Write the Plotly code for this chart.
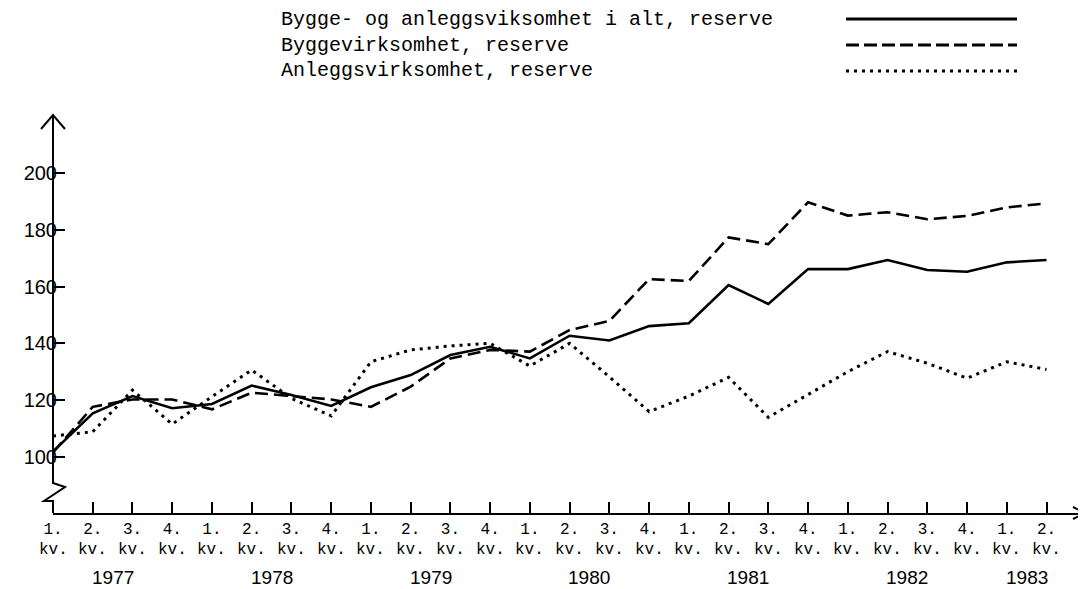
import plotly.graph_objects as go

# ---- data ----
years = ["1977", "1978", "1979", "1980", "1981", "1982", "1983"]
quarter_labels = ["1.", "2.", "3.", "4."] * 6 + ["1.", "2."]
quarter_years = [y for y in years[:-1] for _ in range(4)] + ["1983", "1983"]

alt = [101.8, 115.3, 121.4, 117.1, 118.6, 125.1, 121.8, 117.9, 124.5, 128.8, 135.9, 138.8, 134.7,
       142.7, 141.0, 146.1, 147.1, 160.6, 153.9, 166.2, 166.2, 169.4, 165.9, 165.3, 168.6, 169.4]
bygg = [101.5, 117.6, 120.2, 120.2, 116.7, 122.6, 121.4, 120.2, 117.6, 124.7, 134.7, 137.7, 137.1,
        144.7, 147.9, 162.7, 162.0, 177.4, 175.0, 189.8, 185.1, 186.3, 183.8, 185.0, 188.0, 189.4]
anlegg = [107.3, 108.8, 123.5, 111.5, 121.2, 130.6, 120.6, 114.4, 133.5, 137.7, 139.1, 140.0, 132.0,
          140.0, 128.2, 115.9, 121.4, 128.0, 113.9, 121.8, 130.0, 137.1, 133.0, 127.7, 133.5, 130.8]

series_names = ["Bygge- og anleggsviksomhet i alt, reserve",
                "Byggevirksomhet, reserve",
                "Anleggsvirksomhet, reserve"]
y_ticks = [100, 120, 140, 160, 180, 200]

# ---- layout geometry (page pixels; the page body adds an 8px margin) ----
OFF = 8
W, H = 1086 - OFF, 589 - OFF
AX_X, AX_TOP, AX_Y = 53, 115, 513          # page coords of axes
L, T = AX_X - OFF, AX_TOP - OFF
R, B = 0, H - (AX_Y - OFF)
PW, PH = W - L - R, H - T - B
XSTEP = 39.74            # px per quarter
YPX = 2.8333             # px per index unit
Y100 = 456.7             # page y of value 100


def px(xp):
    return (xp - AX_X) / PW


def py(yp):
    return (AX_Y - yp) / PH


xs = list(range(len(alt)))
styles = [dict(dash="solid", width=2.6),
          dict(dash="13px,6px", width=2.6),
          dict(dash="3px,5px", width=3)]

fig = go.Figure()
for name, vals, st in zip(series_names, [alt, bygg, anlegg], styles):
    fig.add_trace(go.Scatter(x=xs, y=vals, mode="lines", name=name,
                             line=dict(color="black", width=st["width"], dash=st["dash"]),
                             cliponaxis=False, showlegend=False))

fig.update_layout(
    width=W, height=H,
    margin=dict(l=L, r=R, t=T, b=B),
    paper_bgcolor="white", plot_bgcolor="white",
    xaxis=dict(range=[0, PW / XSTEP], showgrid=False, zeroline=False,
               showline=True, linecolor="black", linewidth=2,
               ticks="inside", ticklen=11, tickwidth=2, tickcolor="black",
               tickvals=xs, ticktext=quarter_labels,
               tickfont=dict(family="Liberation Mono", size=16, color="black"),
               ticklabelstandoff=0),
    yaxis=dict(range=[100 - (AX_Y - Y100) / YPX, 100 + (Y100 - AX_TOP) / YPX],
               showgrid=False, zeroline=False, showline=False,
               ticks="inside", ticklen=12, tickwidth=2, tickcolor="black",
               tickvals=y_ticks, ticktext=[str(v) for v in y_ticks],
               tickfont=dict(family="Liberation Sans", size=20, color="black"),
               ticklabelstandoff=-5),
)


def poly(points):
    return "M " + " L ".join(f"{px(a)},{py(b)}" for a, b in points)


# y axis line with break + arrows
fig.add_shape(type="path", path=poly([(53, 115), (53, 483), (65, 487), (44, 501), (53, 501), (53, 513)]),
              xref="paper", yref="paper", line=dict(color="black", width=2))
fig.add_shape(type="path", path=poly([(41, 129), (53, 115), (65, 129)]),
              xref="paper", yref="paper", line=dict(color="black", width=2))
fig.add_shape(type="path", path=poly([(1073, 507), (1085, 513), (1073, 519)]),
              xref="paper", yref="paper", line=dict(color="black", width=2))

# "kv." row and year row
for i in xs:
    fig.add_annotation(x=i, y=py(550), xref="x", yref="paper", text="kv.",
                       showarrow=False, yanchor="middle",
                       font=dict(family="Liberation Mono", size=16, color="black"))
for yr in years:
    idx = [i for i, q in enumerate(quarter_years) if q == yr]
    fig.add_annotation(x=sum(idx) / len(idx), y=py(577), xref="x", yref="paper", text=yr,
                       showarrow=False, yanchor="middle",
                       font=dict(family="Liberation Sans", size=19, color="black"))

# legend
leg_y = [19, 45, 71]
leg_dash = ["solid", "13px,5px", "3px,5px"]
for name, yy, dsh in zip(series_names, leg_y, leg_dash):
    fig.add_annotation(x=px(279), y=py(yy), xref="paper", yref="paper", text=name,
                       showarrow=False, xanchor="left", yanchor="middle",
                       font=dict(family="Liberation Mono", size=20, color="black"))
    fig.add_shape(type="line", x0=px(846), x1=px(1017), y0=py(yy), y1=py(yy),
                  xref="paper", yref="paper",
                  line=dict(color="black", width=3.2, dash=dsh))

fig.write_html("out.html")
